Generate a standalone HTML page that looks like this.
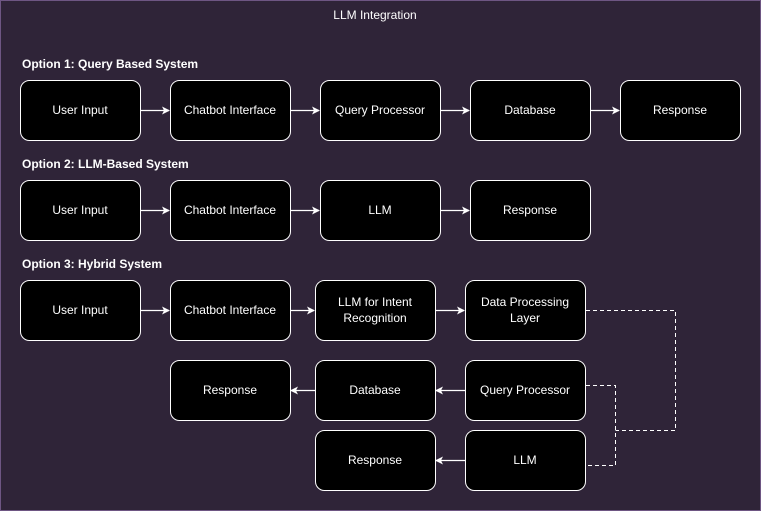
<!DOCTYPE html>
<html><head><style>
html,body{margin:0;padding:0;background:#2f2438;}
svg{display:block}
text{font-family:"Liberation Sans",Arial,sans-serif;fill:#fff;}
</style></head><body>
<svg width="761" height="511" viewBox="0 0 761 511" xmlns="http://www.w3.org/2000/svg">
<defs>
<marker id="a" markerWidth="8" markerHeight="8" refX="7" refY="4" orient="auto" markerUnits="userSpaceOnUse">
<path d="M0,0 L8,4 L0,8 L2,4 Z" fill="#fff"/>
</marker>
</defs>
<rect x="0.5" y="0.5" width="760" height="510" fill="#2f2438" stroke="#6e5683"/>
<text x="375" y="19" font-size="12" text-anchor="middle">LLM Integration</text>
<g font-size="12" font-weight="bold">
<text x="22" y="68">Option 1: Query Based System</text>
<text x="22" y="168">Option 2: LLM-Based System</text>
<text x="22" y="268">Option 3: Hybrid System</text>
</g>
<g fill="#000" stroke="#fff" stroke-width="1">
<rect x="20.5" y="80.5" width="120" height="60" rx="9"/>
<rect x="170.5" y="80.5" width="120" height="60" rx="9"/>
<rect x="320.5" y="80.5" width="120" height="60" rx="9"/>
<rect x="470.5" y="80.5" width="120" height="60" rx="9"/>
<rect x="620.5" y="80.5" width="120" height="60" rx="9"/>
<rect x="20.5" y="180.5" width="120" height="60" rx="9"/>
<rect x="170.5" y="180.5" width="120" height="60" rx="9"/>
<rect x="320.5" y="180.5" width="120" height="60" rx="9"/>
<rect x="470.5" y="180.5" width="120" height="60" rx="9"/>
<rect x="20.5" y="280.5" width="120" height="60" rx="9"/>
<rect x="170.5" y="280.5" width="120" height="60" rx="9"/>
<rect x="315.5" y="280.5" width="120" height="60" rx="9"/>
<rect x="465.5" y="280.5" width="120" height="60" rx="9"/>
<rect x="170.5" y="360.5" width="120" height="60" rx="9"/>
<rect x="315.5" y="360.5" width="120" height="60" rx="9"/>
<rect x="465.5" y="360.5" width="120" height="60" rx="9"/>
<rect x="315.5" y="430.5" width="120" height="60" rx="9"/>
<rect x="465.5" y="430.5" width="120" height="60" rx="9"/>
</g>
<g font-size="12" text-anchor="middle">
<text x="80" y="114">User Input</text>
<text x="230" y="114">Chatbot Interface</text>
<text x="380" y="114">Query Processor</text>
<text x="530" y="114">Database</text>
<text x="680" y="114">Response</text>
<text x="80" y="214">User Input</text>
<text x="230" y="214">Chatbot Interface</text>
<text x="380" y="214">LLM</text>
<text x="530" y="214">Response</text>
<text x="80" y="314">User Input</text>
<text x="230" y="314">Chatbot Interface</text>
<text x="375" y="306">LLM for Intent</text>
<text x="375" y="322">Recognition</text>
<text x="525" y="306">Data Processing</text>
<text x="525" y="322">Layer</text>
<text x="230" y="394">Response</text>
<text x="375" y="394">Database</text>
<text x="525" y="394">Query Processor</text>
<text x="375" y="464">Response</text>
<text x="525" y="464">LLM</text>
</g>
<g stroke="#fff" stroke-width="1.3" fill="none" marker-end="url(#a)">
<path d="M141,110.5 H169"/><path d="M291,110.5 H319"/><path d="M441,110.5 H469"/><path d="M591,110.5 H619"/>
<path d="M141,210.5 H169"/><path d="M291,210.5 H319"/><path d="M441,210.5 H469"/>
<path d="M141,310.5 H169"/><path d="M291,310.5 H314"/><path d="M436,310.5 H464"/>
<path d="M315,390.5 H291"/><path d="M465,390.5 H436"/><path d="M465,460.5 H436"/>
</g>
<g stroke="#fff" stroke-width="1" fill="none" stroke-dasharray="4,3">
<path d="M586,310.5 H675.5 V430.5 H615.5"/>
<path d="M586,385.5 H615.5 V465.5 H586"/>
</g>
</svg>
</body></html>
